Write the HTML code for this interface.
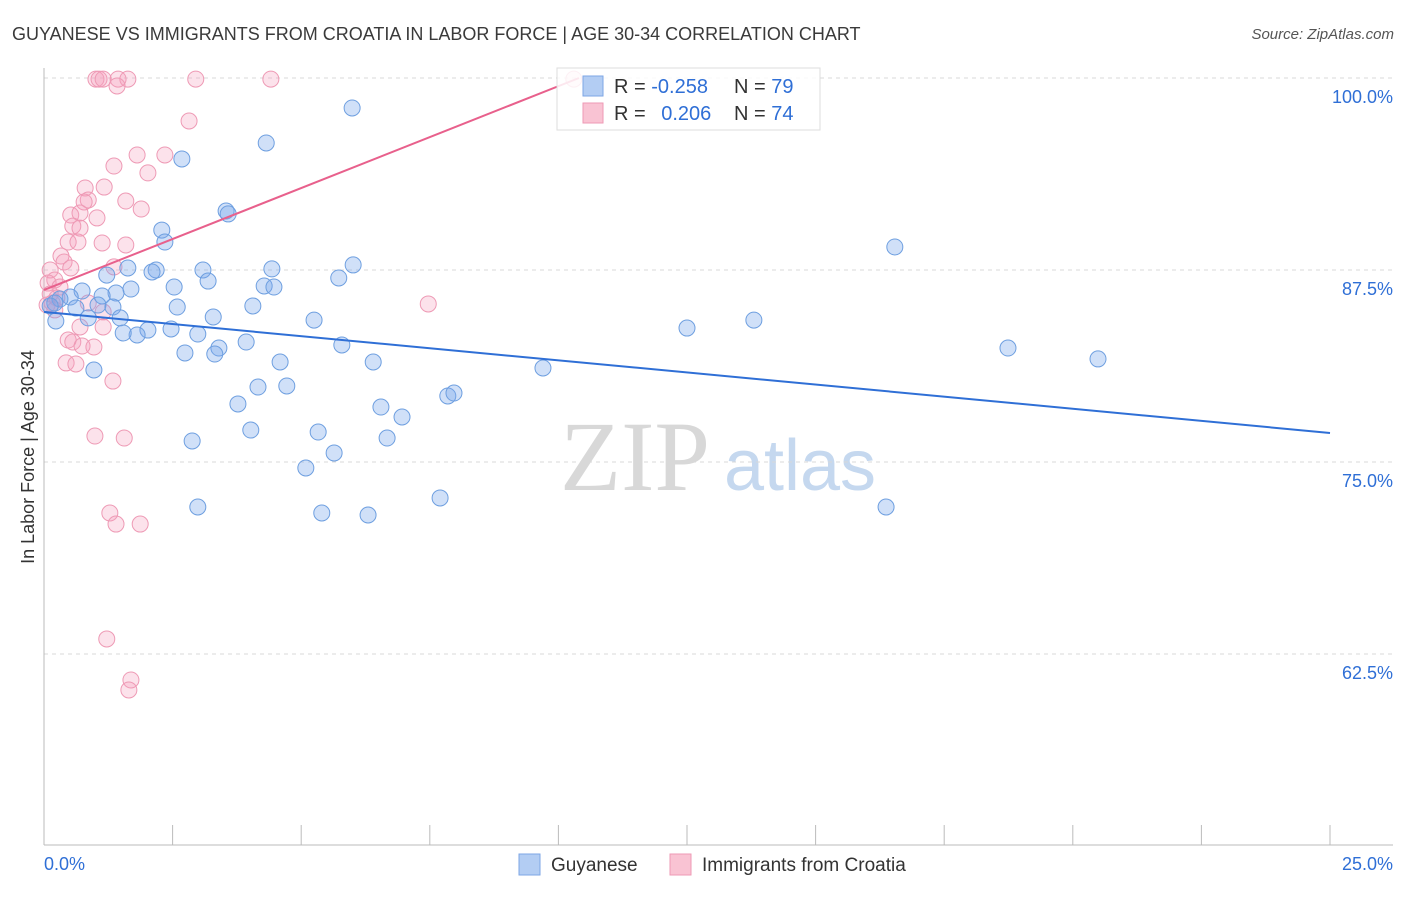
<!DOCTYPE html>
<html><head><meta charset="utf-8">
<style>
body{margin:0;background:#fff;font-family:"Liberation Sans",sans-serif;}
svg text{font-family:"Liberation Sans",sans-serif;}
</style></head>
<body>
<svg id="chart" width="1406" height="892" xmlns="http://www.w3.org/2000/svg">
<text x="12" y="40" font-size="18" fill="#3a3a3a">GUYANESE VS IMMIGRANTS FROM CROATIA IN LABOR FORCE | AGE 30-34 CORRELATION CHART</text>
<text x="1394" y="39" font-size="15" fill="#555" text-anchor="end" font-style="italic">Source: ZipAtlas.com</text>
<text x="34" y="457" font-size="18" fill="#333" text-anchor="middle" transform="rotate(-90 34 457)">In Labor Force | Age 30-34</text>
<g>
<text x="635" y="490" font-size="100" fill="#d8d8d8" text-anchor="middle" font-family="Liberation Serif" style="font-family:'Liberation Serif',serif">ZIP</text>
<text x="800" y="490" font-size="72" fill="#c5d8ef" text-anchor="middle">atlas</text>
</g>
<g id="grid"></g><g id="axes"></g><g id="pinkpts"></g><g id="bluepts"></g><g id="lines"></g>
<g>
<rect x="557" y="68" width="263" height="62" fill="#fff" fill-opacity="0.85" stroke="#ddd"/>
<rect x="583" y="76" width="20" height="20" fill="#b3cdf3" stroke="#7ea6e4"/>
<rect x="583" y="103" width="20" height="20" fill="#f9c3d3" stroke="#ee9ab5"/>
<text x="614" y="93" font-size="20" fill="#333">R = <tspan fill="#2f6fd6">-0.258</tspan></text>
<text x="734" y="93" font-size="20" fill="#333">N = <tspan fill="#2f6fd6">79</tspan></text>
<text x="614" y="120" font-size="20" fill="#333">R = <tspan fill="#2f6fd6" dx="10">0.206</tspan></text>
<text x="734" y="120" font-size="20" fill="#333">N = <tspan fill="#2f6fd6">74</tspan></text>
</g>
<g>
<rect x="519" y="854" width="21" height="21" fill="#b3cdf3" stroke="#7ea6e4"/>
<text x="551" y="871" font-size="19" fill="#333">Guyanese</text>
<rect x="670" y="854" width="21" height="21" fill="#f9c3d3" stroke="#ee9ab5"/>
<text x="702" y="871" font-size="19" fill="#333">Immigrants from Croatia</text>
</g>
</svg>
<script>
const yTicks=[100,87.5,75,62.5];
const yTickLabels=["100.0%","87.5%","75.0%","62.5%"];
const xTicks=[0,2.5,5,7.5,10,12.5,15,17.5,20,22.5,25];
const xEndLabels=["0.0%","25.0%"];
const blueX=[5.99,4.32,2.68,3.54,3.58,2.29,2.35,16.54,1.63,2.18,3.09,4.43,6.01,5.73,3.19,2.10,1.22,4.28,4.47,2.53,1.69,1.40,1.13,0.74,0.51,0.31,0.21,0.12,0.62,1.05,1.34,2.59,4.06,1.48,3.29,0.23,0.86,5.25,12.50,13.80,2.02,1.81,1.54,2.47,2.99,3.93,5.79,3.40,2.74,3.32,6.40,4.59,0.97,9.70,18.74,20.49,4.16,4.72,3.77,6.55,6.96,7.85,7.97,4.02,5.33,6.67,2.88,5.64,5.09,7.70,2.99,5.40,6.30,16.37];
const blueY=[98.05,95.77,94.73,91.34,91.15,90.10,89.32,89.00,87.63,87.50,87.50,87.57,87.83,86.98,86.78,87.37,87.17,86.46,86.39,86.39,86.26,86.00,85.81,86.13,85.74,85.61,85.35,85.16,85.03,85.22,85.09,85.09,85.16,84.38,84.44,84.18,84.38,84.24,83.72,84.24,83.59,83.27,83.40,83.66,83.33,82.81,82.62,82.42,82.10,82.03,81.51,81.51,80.99,81.12,82.42,81.71,79.88,79.95,78.78,78.58,77.93,79.30,79.49,77.08,76.95,76.56,76.37,75.59,74.61,72.66,72.07,71.68,71.55,72.07];
const pinkX=[1.01,1.07,1.15,1.44,1.63,2.95,4.41,1.42,10.30,2.82,1.81,2.35,1.36,2.02,0.80,1.17,0.86,0.78,1.59,1.89,0.52,0.70,1.03,0.56,0.70,0.47,0.66,1.13,1.59,0.33,0.39,0.12,0.52,1.36,0.21,0.08,0.31,0.12,0.25,0.16,0.06,0.21,0.86,1.15,7.47,0.70,1.15,0.47,0.56,0.74,0.97,0.43,0.62,1.34,0.99,1.56,1.28,1.40,1.87,1.22,1.69,1.65];
const pinkY=[99.93,99.93,99.93,99.93,99.93,99.93,99.93,99.48,99.93,97.20,94.99,94.99,94.27,93.82,92.84,92.90,92.06,91.93,91.99,91.47,91.08,91.21,90.89,90.36,90.23,89.32,89.32,89.26,89.13,88.41,88.02,87.50,87.63,87.70,86.85,86.65,86.39,85.94,85.68,85.35,85.22,84.90,85.35,84.77,85.29,83.79,83.79,82.94,82.81,82.55,82.49,81.45,81.38,80.27,76.69,76.56,71.68,70.96,70.96,63.48,60.81,60.16];
const blueTrendX=[0,25];
const blueTrendY=[84.77,76.89];
const pinkTrendX=[0,10.4];
const pinkTrendY=[86.2,100];

const NS="http://www.w3.org/2000/svg";
const xs=v=>44+v*51.44;
const ys=v=>78+(100-v)*15.36;
function mk(tag,attrs,parent){const e=document.createElementNS(NS,tag);for(const k in attrs)e.setAttribute(k,attrs[k]);parent.appendChild(e);return e;}
const grid=document.getElementById('grid'),axes=document.getElementById('axes');
yTicks.forEach((t,i)=>{
 const l=mk('line',{x1:44,x2:1393,y1:ys(t),y2:ys(t),stroke:'#d8d8d8','stroke-dasharray':'4,4'},grid);
 
 
 const tx=mk('text',{x:1393,y:ys(t)+25,'font-size':18,fill:'#2f6fd6','text-anchor':'end'},axes);
 tx.textContent=yTickLabels[i];
 
 
});
const ya=mk('line',{x1:44,x2:44,y1:68,y2:845,stroke:'#bbb'},axes);


const xa=mk('line',{x1:44,x2:1393,y1:845,y2:845,stroke:'#bbb'},axes);


xTicks.forEach(t=>{
 const l=mk('line',{x1:xs(t),x2:xs(t),y1:825,y2:845,stroke:'#bbb'},axes);
 
 
});
[[0,'start',44],[25,'end',1393]].forEach((d,i)=>{
 const tx=mk('text',{x:d[2],y:870,'font-size':18,fill:'#2f6fd6','text-anchor':d[1]},axes);
 tx.textContent=xEndLabels[i];
 
 
});
function pts(X,Y,g,fill,stroke,name){
 X.forEach((x,i)=>{
  const c=mk('circle',{cx:xs(x),cy:ys(Y[i]),r:8,fill:fill,stroke:stroke,'stroke-width':1},g);
  
  
 });
}
pts(pinkX,pinkY,document.getElementById('pinkpts'),'rgba(244,160,188,0.3)','#ee9ab5','croatia-point');
pts(blueX,blueY,document.getElementById('bluepts'),'rgba(120,165,235,0.35)','#6e9fe0','guyanese-point');
const lg=document.getElementById('lines');
const bl=mk('line',{x1:xs(blueTrendX[0]),y1:ys(blueTrendY[0]),x2:xs(blueTrendX[1]),y2:ys(blueTrendY[1]),stroke:'#2f6fd6','stroke-width':2},lg);


const pl=mk('line',{x1:xs(pinkTrendX[0]),y1:ys(pinkTrendY[0]),x2:xs(pinkTrendX[1]),y2:ys(pinkTrendY[1]),stroke:'#e8608c','stroke-width':2},lg);


</script>
</body></html>
